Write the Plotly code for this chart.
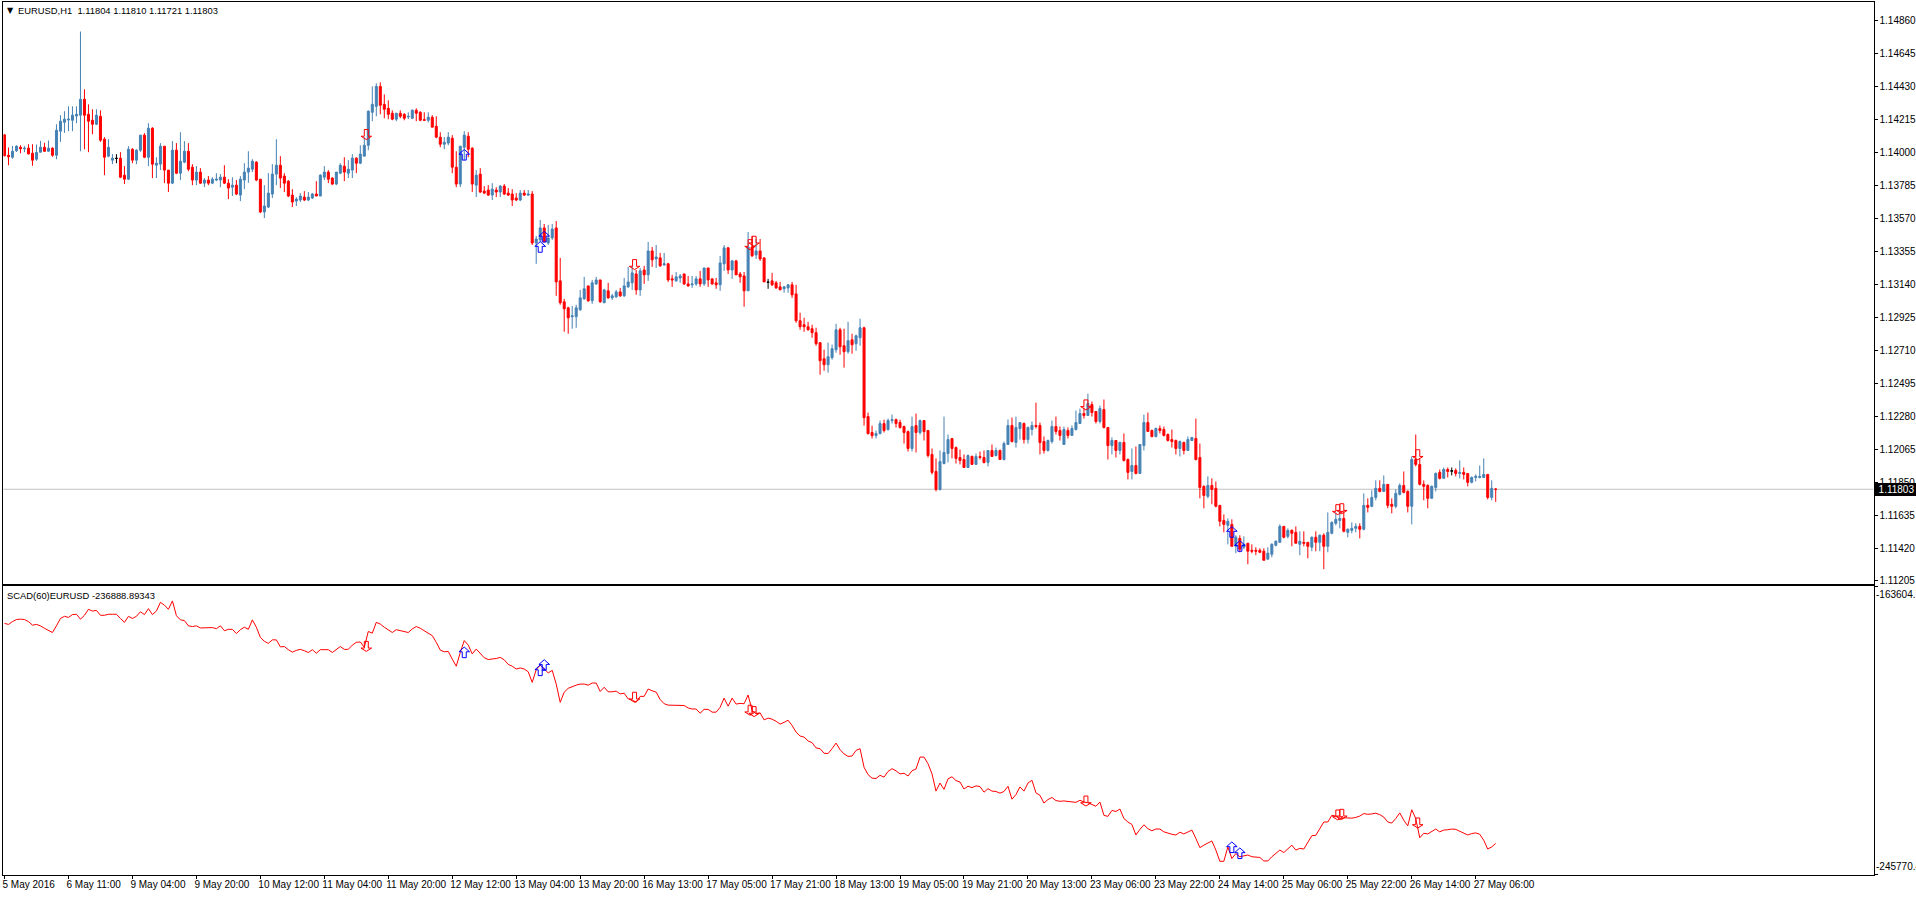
import plotly.graph_objects as go

# Prices are given in points above 1.00000 (14860 means 1.14860)
OPEN_PTS = [
14114,13981,13968,14010,14033,14023,14027,13994,13955,14001,
14033,14007,14027,13981,14138,14196,14211,14209,14237,14242,
14346,14248,14209,14183,14235,14086,13975,13949,13962,13962,
13851,13825,14020,13949,14014,14112,13968,14157,13916,13923,
14040,13884,13799,14014,13864,13936,14007,13903,13819,13871,
13799,13819,13799,13819,13819,13838,13799,13773,13786,13721,
13819,13871,13890,13936,13825,13611,13643,13728,13858,13916,
13845,13812,13721,13682,13689,13708,13689,13702,13728,13715,
13838,13871,13832,13793,13864,13910,13864,13884,13962,13929,
13975,14046,14261,14300,14430,14313,14287,14255,14216,14255,
14248,14231,14222,14274,14261,14213,14209,14229,14170,14099,
14053,14060,14092,13903,13793,14033,14105,14027,13786,13858,
13747,13754,13721,13754,13741,13780,13734,13728,13702,13689,
13734,13721,13728,13409,13429,13507,13409,13442,13507,13162,
13025,12986,12928,12928,12973,13045,13129,13032,13142,13168,
13019,13097,13051,13058,13090,13064,13123,13149,13207,13103,
13233,13201,13357,13305,13312,13266,13273,13175,13162,13181,
13207,13142,13136,13142,13175,13142,13246,13175,13149,13136,
13273,13377,13233,13292,13207,13194,13097,13383,13331,13357,
13312,13155,13162,13149,13123,13110,13116,13136,13077,12902,
12876,12863,12850,12824,12759,12654,12615,12661,12713,12843,
12739,12700,12778,12752,12791,12856,12277,12173,12153,12166,
12231,12192,12251,12257,12238,12212,12179,12069,12218,12173,
12251,12186,12030,11919,11802,11971,12036,12134,12075,12010,
11997,11945,12017,11965,12017,12010,11978,12056,12023,12056,
11997,12095,12219,12108,12199,12232,12127,12193,12219,12219,
12114,12056,12114,12212,12186,12095,12186,12154,12193,12232,
12297,12284,12355,12310,12245,12323,12206,12088,12121,12056,
12108,11997,11919,11958,11906,12088,12238,12186,12147,12199,
12193,12160,12127,12121,12069,12108,12056,12121,12134,12010,
11822,11757,11828,11809,11698,11600,11568,11574,11431,11483,
11425,11451,11405,11405,11405,11399,11347,11379,11438,11457,
11561,11496,11535,11522,11444,11457,11457,11425,11490,11457,
11503,11431,11516,11581,11600,11613,11522,11535,11548,11561,
11542,11698,11692,11750,11809,11789,11835,11705,11692,11770,
11828,11789,11692,11997,11965,11835,11828,11744,11815,11913,
11874,11932,11924,11926,11906,11913,11906,11848,11880,11880,
11880,11900,11750,11804]
HIGH_PTS = [
14118,14031,14042,14046,14046,14040,14053,14053,14051,14075,
14062,14077,14033,14183,14242,14268,14300,14300,14300,14788,
14411,14313,14281,14281,14274,14099,14086,13988,13988,14001,
13910,14040,14027,14020,14112,14125,14190,14164,13968,14060,
14040,13884,14073,14060,14131,14073,14060,13923,13910,13897,
13832,13845,13838,13864,13858,13916,13825,13838,13819,13845,
13929,14007,13955,13942,13825,13786,13864,13923,14086,13975,
13864,13819,13760,13708,13734,13747,13741,13734,13812,13858,
13910,13884,13838,13871,13929,13968,13949,13988,13968,14046,
14099,14274,14430,14450,14456,14378,14339,14274,14255,14274,
14255,14261,14281,14287,14268,14261,14261,14242,14235,14131,
14099,14131,14112,14007,14040,14138,14131,14033,13884,13897,
13780,13786,13799,13773,13786,13793,13767,13760,13734,13754,
13754,13754,13747,13455,13559,13533,13526,13533,13552,13312,
13045,12993,12999,13006,13103,13188,13129,13168,13188,13168,
13110,13149,13077,13103,13116,13181,13253,13260,13233,13246,
13260,13416,13383,13396,13344,13344,13279,13201,13220,13207,
13207,13194,13194,13194,13227,13246,13246,13175,13181,13325,
13396,13383,13299,13299,13220,13220,13481,13455,13435,13435,
13312,13175,13214,13162,13155,13129,13142,13155,13136,12954,
12921,12895,12876,12856,12759,12713,12759,12746,12882,12856,
12850,12895,12817,12811,12915,12863,12303,12218,12186,12251,
12257,12264,12290,12264,12257,12218,12186,12277,12297,12257,
12251,12186,12069,12004,12056,12277,12160,12134,12082,12062,
12030,12030,12023,12036,12049,12056,12056,12095,12075,12062,
12114,12258,12271,12277,12238,12238,12212,12245,12368,12238,
12147,12127,12251,12277,12212,12212,12206,12219,12316,12329,
12336,12427,12375,12310,12349,12388,12206,12141,12121,12114,
12167,12004,12069,12082,12095,12290,12303,12193,12206,12219,
12212,12167,12193,12127,12121,12114,12147,12141,12264,12101,
11828,11887,11874,11854,11698,11639,11613,11607,11503,11503,
11496,11451,11444,11425,11418,11418,11425,11451,11470,11574,
11561,11548,11542,11561,11529,11529,11457,11496,11529,11509,
11516,11652,11594,11652,11665,11665,11548,11587,11581,11581,
11776,11744,11796,11861,11861,11893,11835,11744,11802,11841,
11919,11796,12017,12160,12004,11861,11835,11828,11913,11932,
11945,11945,11945,11939,11991,11945,11906,11887,11900,11958,
12004,11900,11861,11810]
LOW_PTS = [
13975,13916,13958,14003,13994,14001,13986,13912,13945,13999,
14003,14007,13971,13955,14068,14127,14138,14138,14190,14007,
14020,14001,14118,14177,14068,13851,13968,13923,13929,13832,
13793,13819,13929,13923,14003,13962,13910,13832,13832,13884,
13799,13741,13793,13858,13819,13929,13877,13786,13786,13793,
13773,13786,13793,13812,13773,13793,13695,13715,13721,13682,
13760,13801,13871,13812,13604,13571,13637,13702,13786,13767,
13741,13708,13643,13650,13676,13682,13682,13695,13715,13715,
13819,13799,13786,13786,13858,13812,13832,13832,13864,13923,
13975,14014,14203,14235,14248,14222,14216,14209,14203,14222,
14209,14216,14216,14203,14203,14209,14196,14164,14092,14033,
14020,14046,13864,13773,13773,13949,13968,13741,13708,13734,
13728,13715,13689,13708,13708,13721,13715,13650,13682,13682,
13715,13715,13396,13273,13416,13416,13396,13429,13064,13006,
12830,12817,12850,12856,12967,13038,13025,13012,13136,13019,
13019,13045,13038,13051,13058,13058,13116,13103,13071,13064,
13142,13162,13253,13246,13253,13260,13155,13123,13155,13149,
13136,13123,13116,13129,13123,13129,13123,13136,13110,13097,
13227,13207,13175,13201,13149,12993,13097,13318,13305,13292,
13155,13110,13129,13110,13103,13084,13084,13051,12889,12843,
12830,12837,12791,12739,12550,12576,12563,12648,12693,12680,
12596,12687,12687,12706,12739,12218,12160,12134,12134,12160,
12173,12186,12231,12205,12199,12101,12049,12049,12043,12160,
12121,12010,11900,11789,11795,11965,11978,12004,11971,11965,
11945,11945,11965,11965,11997,11971,11952,12017,12017,11997,
11991,12095,12108,12075,12127,12101,12101,12154,12199,12030,
12036,12049,12101,12160,12121,12095,12134,12154,12186,12232,
12264,12284,12277,12232,12232,12199,11997,12030,12010,12030,
11984,11867,11867,11900,11906,12056,12180,12141,12141,12167,
12147,12114,12075,12030,12017,12030,12056,12121,11991,11744,
11679,11744,11705,11685,11561,11522,11444,11431,11386,11392,
11412,11314,11386,11373,11386,11340,11347,11360,11431,11457,
11483,11483,11431,11451,11373,11431,11353,11399,11399,11399,
11282,11392,11509,11568,11548,11522,11490,11516,11522,11483,
11535,11652,11685,11731,11783,11789,11679,11646,11679,11763,
11776,11652,11574,11952,11828,11731,11679,11744,11789,11867,
11874,11880,11893,11887,11874,11867,11822,11841,11854,11874,
11880,11737,11731,11721]
CLOSE_PTS = [
13977,13971,14007,14040,14023,14027,13990,13949,13999,14033,
14007,14027,13981,14144,14203,14216,14216,14242,14248,14346,
14242,14203,14183,14242,14079,13968,14033,13962,13960,13838,
13825,14020,13949,14014,14112,13968,14157,13923,13929,14040,
13884,13799,14014,13864,13942,14007,13890,13819,13871,13799,
13819,13799,13825,13825,13838,13799,13767,13786,13728,13825,
13871,13897,13942,13819,13611,13650,13734,13858,13916,13832,
13799,13715,13676,13695,13715,13689,13708,13728,13715,13851,
13871,13825,13793,13871,13916,13871,13890,13962,13929,13988,
14046,14268,14313,14430,14307,14281,14248,14216,14255,14235,
14222,14235,14274,14255,14209,14209,14229,14164,14099,14053,
14066,14099,13903,13793,14040,14112,14020,13793,13851,13741,
13734,13721,13760,13741,13780,13728,13721,13689,13689,13734,
13721,13728,13409,13435,13507,13416,13442,13500,13155,13019,
12980,12921,12934,12986,13051,13110,13032,13149,13168,13025,
13103,13051,13064,13090,13064,13129,13155,13214,13103,13227,
13201,13357,13299,13318,13260,13273,13168,13168,13188,13194,
13142,13129,13142,13175,13142,13246,13168,13142,13136,13279,
13377,13233,13292,13201,13188,13097,13383,13325,13357,13305,
13155,13152,13136,13116,13103,13123,13136,13071,12902,12863,
12863,12843,12824,12752,12641,12615,12667,12719,12843,12732,
12700,12772,12745,12804,12856,12270,12166,12153,12166,12231,
12186,12251,12257,12231,12205,12173,12069,12212,12173,12251,
12179,12023,11913,11802,11984,12043,12127,12069,12004,11991,
11945,12023,11965,12017,12010,11978,12056,12017,12056,11997,
12101,12219,12114,12206,12238,12127,12206,12219,12212,12108,
12056,12121,12212,12180,12154,12193,12154,12199,12238,12297,
12284,12362,12303,12245,12329,12206,12088,12121,12056,12108,
11991,11913,11958,11906,12095,12238,12180,12147,12199,12186,
12154,12121,12114,12069,12114,12056,12127,12141,11997,11815,
11763,11828,11802,11692,11594,11574,11594,11431,11490,11412,
11444,11399,11399,11399,11392,11340,11386,11444,11464,11561,
11490,11535,11516,11451,11464,11451,11431,11490,11457,11503,
11431,11522,11587,11607,11613,11529,11542,11548,11561,11542,
11698,11685,11750,11809,11789,11835,11698,11692,11776,11828,
11783,11692,11997,11965,11835,11822,11744,11822,11906,11874,
11932,11919,11921,11906,11913,11900,11848,11880,11887,11887,
11900,11750,11809,11803]
DOJI_BARS = [28, 191, 362]

# Indicator values, in thousands below zero
SCAD_THOUSANDS = [
174.2,174.5,173.7,173.1,173.0,173.1,173.7,174.7,174.5,174.9,
175.6,176.2,176.8,174.9,172.8,172.2,172.5,171.7,171.6,173.0,
171.9,170.2,170.7,170.5,171.9,171.9,171.6,171.6,171.6,172.8,
173.9,172.2,172.8,172.2,170.9,171.7,170.0,171.7,170.7,168.2,
169.0,170.2,167.8,172.0,173.2,173.4,174.9,175.1,174.9,175.5,
175.5,175.6,175.4,175.7,174.9,176.3,175.9,175.9,177.1,176.0,
175.3,175.9,173.2,175.3,178.2,179.3,179.9,178.9,178.9,180.9,
180.8,181.7,182.4,181.9,181.6,182.0,182.5,181.7,182.7,181.7,
181.6,181.7,182.5,181.7,180.8,181.6,181.6,180.4,179.6,179.5,
181.0,176.5,177.0,173.9,174.4,175.3,176.1,176.8,176.0,176.3,
176.5,176.8,175.8,175.1,175.6,176.3,176.8,177.7,179.6,181.8,
182.3,182.2,184.4,186.4,182.5,179.1,180.4,182.9,181.5,182.9,
184.0,184.5,184.4,184.2,183.9,184.6,185.9,186.4,187.2,186.9,
187.2,188.0,191.0,187.4,186.1,187.2,188.3,187.6,191.5,196.7,
193.8,192.7,192.2,191.8,191.5,191.5,191.8,191.2,191.2,193.6,
192.4,193.7,193.7,193.5,194.3,194.1,195.7,196.0,196.7,195.0,
195.0,192.9,193.4,193.8,195.9,197.1,197.5,197.5,197.5,197.5,
197.6,198.3,198.6,198.6,199.8,198.7,198.7,199.5,199.5,198.1,
195.5,197.8,195.5,197.2,197.0,197.1,194.6,199.0,200.0,199.7,
201.7,201.2,201.5,202.1,202.9,202.4,201.8,203.3,205.2,206.3,
206.6,207.7,208.2,209.7,209.9,211.2,211.3,209.9,208.3,210.2,
211.4,212.1,212.0,210.4,209.9,215.2,217.3,218.3,218.4,217.5,
218.0,216.4,215.6,216.2,217.1,216.9,217.7,216.2,215.7,212.3,
212.3,214.2,217.1,222.0,219.7,221.5,218.5,217.9,219.0,219.4,
221.4,220.6,221.0,220.5,220.7,222.3,221.3,222.0,222.1,222.6,
222.1,220.6,224.3,223.0,220.8,222.0,219.7,218.9,222.5,223.2,
225.4,224.4,223.8,224.7,224.9,224.8,225.0,225.1,225.2,224.6,
225.1,225.3,225.8,226.3,225.1,228.9,229.2,227.5,227.8,227.1,
229.8,230.8,231.5,234.5,232.9,231.6,232.7,233.3,232.8,232.8,
233.6,234.0,234.3,234.5,233.7,234.2,233.6,233.1,235.5,238.1,
237.4,236.8,236.2,238.8,242.0,242.0,237.9,241.2,239.8,240.7,
240.5,240.2,240.7,240.7,240.9,241.9,241.9,240.7,239.6,238.8,
239.5,238.5,237.4,238.8,238.3,238.5,236.5,234.7,234.6,232.5,
230.8,230.8,228.9,229.1,230.1,229.6,229.7,229.7,229.5,229.1,
228.4,228.6,228.5,228.3,228.7,229.4,230.8,231.1,229.8,228.2,
230.3,231.9,227.3,229.8,235.3,234.0,234.2,233.5,232.8,233.6,
233.1,233.0,232.8,232.9,233.5,233.9,234.5,234.1,233.9,234.3,
236.0,238.5,237.9,236.889]

TICK_BARS = [0,16,32,48,64,80,96,112,128,144,160,176,192,208,224,240,256,272,288,304,320,336,352,368]
TICK_LABELS = ["5 May 2016","6 May 11:00","9 May 04:00","9 May 20:00","10 May 12:00","11 May 04:00",
 "11 May 20:00","12 May 12:00","13 May 04:00","13 May 20:00","16 May 13:00","17 May 05:00",
 "17 May 21:00","18 May 13:00","19 May 05:00","19 May 21:00","20 May 13:00","23 May 06:00",
 "23 May 22:00","24 May 14:00","25 May 06:00","25 May 22:00","26 May 14:00","27 May 06:00"]
PRICE_TICKS = ["1.11205","1.11420","1.11635","1.11850","1.12065","1.12280","1.12495","1.12710","1.12925",
 "1.13140","1.13355","1.13570","1.13785","1.14000","1.14215","1.14430","1.14645","1.14860"]

DOWN_BARS = [90.5,157.6,186.5,187.5,270.5,333.5,334.5,353.5]
DOWN_PRICE_PTS = [14116,13268,13398,13420,12353,11670,11676,12028]
DOWN_SCAD = [-180759,-195258,-198954,-199333,-224825,-228805,-228616,-231080]
UP_BARS = [115,134,135,307,309]
UP_PRICE_PTS = [13984,13383,13450,11525,11433]
UP_SCAD = [-182464,-187581,-186065,-237998,-239704]

LAST_PRICE = 1.11803
HEADER = "EURUSD,H1  1.11804 1.11810 1.11721 1.11803"
SCAD_HEADER = "SCAD(60)EURUSD -236888.89343"
SCAD_MAX, SCAD_MIN = -163604.7, -245770.4

assert all(len(a) == 374 for a in (OPEN_PTS, HIGH_PTS, LOW_PTS, CLOSE_PTS, SCAD_THOUSANDS))

def price(p):
    return [round(1.0 + v / 1e5, 5) for v in p]

W, H = 1916, 897
FONT = "Liberation Sans, Arial, sans-serif"
TF = dict(family=FONT, size=10, color="black")
HF = dict(family=FONT, size=9.4, color="black")
bars = list(range(374))
main = [i for i in bars if i not in DOJI_BARS]
sel = lambda a, idx: [a[i] for i in idx]

fig = go.Figure()
fig.add_trace(go.Candlestick(
    x=main, open=price(sel(OPEN_PTS, main)), high=price(sel(HIGH_PTS, main)),
    low=price(sel(LOW_PTS, main)), close=price(sel(CLOSE_PTS, main)),
    increasing=dict(line=dict(color="#4682b4", width=1), fillcolor="#4682b4"),
    decreasing=dict(line=dict(color="#ff0000", width=1), fillcolor="#ff0000"),
    whiskerwidth=0, xaxis="x", yaxis="y", showlegend=False))
fig.add_trace(go.Candlestick(
    x=DOJI_BARS, open=price(sel(OPEN_PTS, DOJI_BARS)), high=price(sel(HIGH_PTS, DOJI_BARS)),
    low=price(sel(LOW_PTS, DOJI_BARS)), close=price(sel(CLOSE_PTS, DOJI_BARS)),
    increasing=dict(line=dict(color="black", width=1), fillcolor="black"),
    decreasing=dict(line=dict(color="black", width=1), fillcolor="black"),
    whiskerwidth=0, xaxis="x", yaxis="y", showlegend=False))
fig.add_trace(go.Scatter(x=bars, y=[-v * 1000 for v in SCAD_THOUSANDS], mode="lines",
    line=dict(color="#ff0000", width=1), xaxis="x2", yaxis="y2", showlegend=False))

# Hollow arrows: pixel-sized outline anchored on a bar and a value
DOWN_PATH = "M-2,5 L2,5 L2,-1.7 L5.3,-1.7 L0,-5 L-5.3,-1.7 L-2,-1.7 Z"
UP_PATH = "M0,5.3 L5.3,0.6 L2,0.6 L2,-5.3 L-2,-5.3 L-2,0.6 L-5.3,0.6 Z"

def arrow_shapes(xs, ys, path, color, xa, ya):
    return [dict(type="path", path=path, xsizemode="pixel", ysizemode="pixel", xanchor=x, yanchor=y,
                 xref=xa, yref=ya, line=dict(color=color, width=1), fillcolor="rgba(0,0,0,0)", layer="above")
            for x, y in zip(xs, ys)]

XR = [-0.25, 467.5]
line = dict(showline=True, linecolor="black", linewidth=1, mirror=True, showgrid=False, zeroline=False)
fig.update_layout(
    width=W, height=H, margin=dict(l=0, r=0, t=0, b=0), paper_bgcolor="white", plot_bgcolor="white",
    boxmode="overlay", boxgap=0.5, boxgroupgap=0, hovermode=False, font=TF,
    xaxis=dict(domain=[2.5 / W, 1873.5 / W], range=XR, anchor="y", showticklabels=False, ticks="",
               rangeslider=dict(visible=False), **line),
    yaxis=dict(domain=[1 - 585.5 / H, 1 - 2.5 / H], range=[1.11184, 1.14977], side="right", anchor="x",
               tickmode="array", tickvals=[float(t) for t in PRICE_TICKS], ticktext=PRICE_TICKS,
               ticks="outside", ticklen=3, tickcolor="black", tickfont=TF, **line),
    xaxis2=dict(domain=[2.5 / W, 1873.5 / W], range=XR, anchor="y2", tickmode="array", tickvals=TICK_BARS,
                ticktext=TICK_LABELS, ticks="outside", ticklen=3, tickcolor="black", tickfont=TF,
                ticklabelposition="outside right", ticklabelshift=-3, tickangle=0, **line),
    yaxis2=dict(domain=[1 - 876.5 / H, 1 - 587.5 / H], range=[SCAD_MIN, SCAD_MAX], side="right", anchor="x2",
                tickmode="array", tickvals=[SCAD_MIN, SCAD_MAX], showticklabels=False,
                ticks="outside", ticklen=3, tickcolor="black", **line),
    shapes=[dict(type="line", xref="x domain", x0=0, x1=1, yref="y", y0=LAST_PRICE, y1=LAST_PRICE,
                 line=dict(color="#c0c0c0", width=1), layer="below")]
        + arrow_shapes(DOWN_BARS, price(DOWN_PRICE_PTS), DOWN_PATH, "#ff0000", "x", "y")
        + arrow_shapes(UP_BARS, price(UP_PRICE_PTS), UP_PATH, "#0000ff", "x", "y")
        + arrow_shapes(DOWN_BARS, DOWN_SCAD, DOWN_PATH, "#ff0000", "x2", "y2")
        + arrow_shapes(UP_BARS, UP_SCAD, UP_PATH, "#0000ff", "x2", "y2"),
    annotations=[
        dict(text="\u25bc", xref="paper", yref="paper", x=4 / W, y=1 - 11 / H, xanchor="left", yanchor="middle",
             showarrow=False, font=dict(family="DejaVu Sans", size=8, color="black")),
        dict(text=HEADER.replace("  ", "&nbsp;&nbsp;"), xref="paper", yref="paper", x=15 / W, y=1 - 10.5 / H, xanchor="left",
             yanchor="middle", showarrow=False, font=HF),
        dict(text=SCAD_HEADER, xref="paper", yref="paper", x=4.5 / W, y=1 - 596.5 / H, xanchor="left",
             yanchor="middle", showarrow=False, font=HF),
        dict(text=f"{LAST_PRICE:.5f}", xref="paper", yref="y", x=1875 / W, y=LAST_PRICE, xanchor="left",
             yanchor="middle", showarrow=False, bgcolor="black", borderpad=0, borderwidth=1, bordercolor="black",
             width=41, align="center", font=dict(family=FONT, size=10, color="white")),
        dict(text=f"{SCAD_MAX:.1f}", xref="paper", yref="y2", x=1873.5 / W, y=SCAD_MAX, xanchor="left",
             yanchor="top", yshift=-1, showarrow=False, font=TF),
        dict(text=f"{SCAD_MIN:.1f}", xref="paper", yref="y2", x=1873.5 / W, y=SCAD_MIN, xanchor="left",
             yanchor="bottom", yshift=1, showarrow=False, font=TF),
    ],
)
fig.write_html("out.html", config=dict(displayModeBar=False),
               post_script="document.body.style.margin='0';document.body.style.overflow='hidden';")
